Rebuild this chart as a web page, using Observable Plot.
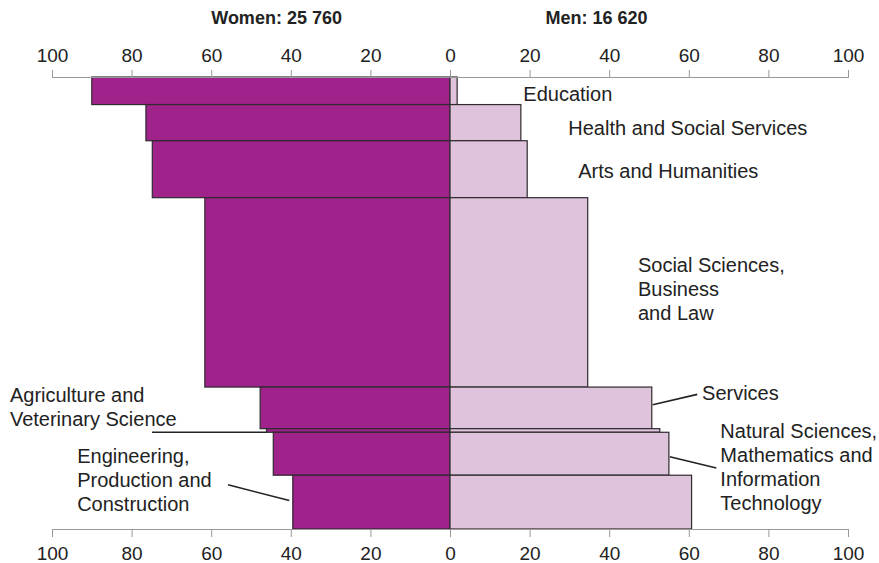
<!DOCTYPE html>
<html>
<head>
<meta charset="utf-8">
<script src="https://cdn.jsdelivr.net/npm/d3@7"></script>
<script src="https://cdn.jsdelivr.net/npm/@observablehq/plot@0.6"></script>
<style>
  html, body { margin: 0; padding: 0; background: #fff; }
  #chart svg { display: block; }
</style>
</head>
<body>
<div id="chart"></div>
<script>
// ---- data ----
const fields = [
  "Education",
  "Health and Social Services",
  "Arts and Humanities",
  "Social Sciences, Business and Law",
  "Services",
  "Agriculture and Veterinary Science",
  "Natural Sciences, Mathematics and Information Technology",
  "Engineering, Production and Construction"
];
const womenPct = [90.0, 76.4, 74.8, 61.6, 47.7, 46.1, 44.4, 39.5];
const menPct   = [1.8, 17.8, 19.4, 34.6, 50.7, 52.7, 55.0, 60.7];
// relative share of all graduates (bar thickness)
const fieldShare = [6.1, 8.0, 12.6, 41.9, 9.2, 0.8, 9.5, 11.9];
const tickValues = [-100, -80, -60, -40, -20, 0, 20, 40, 60, 80, 100];
const titles = ["Women: 25 760", "Men: 16 620"];

// ---- annotation anchors (in scale units) ----
const labelText = [
  "Education",
  "Health and Social Services",
  "Arts and Humanities",
  "Social Sciences,\nBusiness\nand Law",
  "Services",
  "Natural Sciences,\nMathematics and\nInformation\nTechnology",
  "Agriculture and\nVeterinary Science",
  "Engineering,\nProduction and\nConstruction"
];
const labelX = [18.3, 29.6, 32.1, 47.1, 63.2, 67.8, -110.7, -93.8];
const labelY = [3.6, 11.1, 20.6, 46.7, 69.7, 86.1, 72.8, 89.0];
const leaders = [
  {x1: 50.8, y1: 72.4, x2: 62.0, y2: 70.1},
  {x1: 55.1, y1: 83.9, x2: 66.8, y2: 86.4},
  {x1: -75.0, y1: 78.5, x2: -46.1, y2: 78.5},
  {x1: -55.9, y1: 90.1, x2: -40.5, y2: 93.6}
];
const titleX = [-43.7, 36.7];
const titleY = -13.1;

// ---- build tables ----
let acc = 0;
const rows = fields.map((f, i) => {
  const y1 = acc; acc += fieldShare[i];
  return {field: f, women: womenPct[i], men: menPct[i], y1, y2: acc};
});
const labels = labelText.map((t, i) => ({text: t, x: labelX[i], y: labelY[i]}));
const titleRows = titles.map((t, i) => ({text: t, x: titleX[i], y: titleY}));

const FONT = "'Liberation Sans', Arial, Helvetica, sans-serif";

const chart = Plot.plot({
  width: 879,
  height: 563,
  marginTop: 77,
  marginBottom: 34,
  marginLeft: 52,
  marginRight: 31,
  style: {fontFamily: FONT, fontSize: "19px", color: "#222", background: "#fff"},
  x: {domain: [-100, 100], axis: null},
  y: {domain: [0, 100], reverse: true, axis: null},
  marks: [
    Plot.rect(rows, {x1: d => -d.women, x2: 0, y1: "y1", y2: "y2", fill: "#a0228b", stroke: "#2e2a2e", strokeWidth: 1.2}),
    Plot.rect(rows, {x1: 0, x2: "men", y1: "y1", y2: "y2", fill: "#dfc3dc", stroke: "#2e2a2e", strokeWidth: 1.2}),
    Plot.ruleY([0, 100], {x1: -100, x2: 100, stroke: "#999", strokeWidth: 1.2}),
    Plot.axisX({anchor: "top", ticks: tickValues, tickFormat: d => Math.abs(d), tickSize: 8, tickPadding: 8, stroke: "#999", fill: "#222", fontSize: 19}),
    Plot.axisX({anchor: "bottom", ticks: tickValues, tickFormat: d => Math.abs(d), tickSize: 8, tickPadding: 9, stroke: "#999", fill: "#222", fontSize: 19}),
    Plot.link(leaders, {x1: "x1", y1: "y1", x2: "x2", y2: "y2", stroke: "#222", strokeWidth: 1.6}),
    Plot.text(labels, {x: "x", y: "y", text: "text", textAnchor: "start", lineAnchor: "middle", lineHeight: 1.2, fontSize: 20, fill: "#222"}),
    Plot.text(titleRows, {x: "x", y: "y", text: "text", textAnchor: "middle", fontSize: 18, fontWeight: "bold", fill: "#222"})
  ]
});
document.getElementById("chart").appendChild(chart);
</script>
</body>
</html>
